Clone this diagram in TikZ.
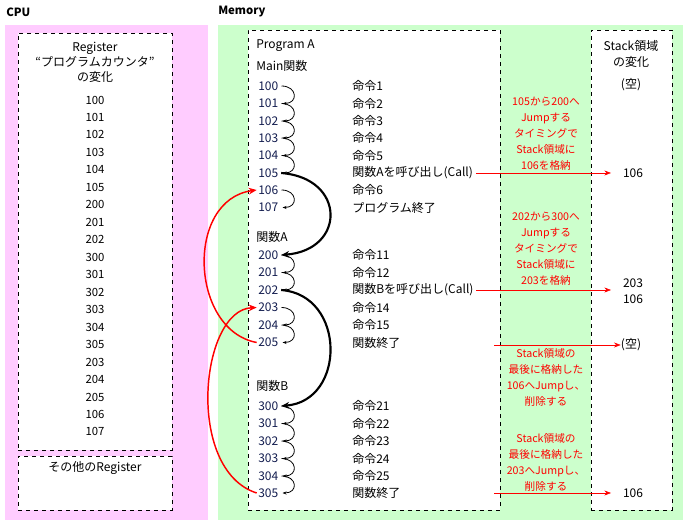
\documentclass[tikz,border=0pt]{standalone}
\usepackage{fontspec}
\setmainfont{Noto Sans CJK JP}
\usetikzlibrary{positioning, arrows.meta}
\definecolor{cpubg}{RGB}{255, 204, 255}
\definecolor{membg}{RGB}{204, 255, 204}
\definecolor{numcolor}{RGB}{20, 30, 80}
\definecolor{notecolor}{RGB}{255, 0, 0}

\begin{document}
\begin{tikzpicture}[
    x=0.75pt, y=-0.75pt,
    txt/.style={font=\fontsize{9}{10}\selectfont, inner sep=0pt, anchor=west},
    num/.style={txt, text=numcolor},
    note/.style={font=\fontsize{8}{12}\selectfont, text=notecolor, align=center, inner sep=0pt},
    title/.style={font=\fontsize{8.5}{10}\selectfont\bfseries, inner sep=0pt, anchor=west},
    dbox/.style={draw, dashed, fill=white, inner sep=0pt, outer sep=0pt},
    loop/.style={-{Stealth[length=3pt]}, semithick},
    jump/.style={-{Stealth[length=6pt,width=5pt]}, line width=1.6pt},
    ret/.style={-{Stealth[length=6pt,width=5pt]}, notecolor, line width=1.1pt},
    push/.style={-{Stealth[length=5pt]}, notecolor},
]
\useasboundingbox (0,0) rectangle (686,523);

% ============ CPU ============
\fill[cpubg] (5,25) rectangle (208,520);
\node[title] (cpu) at (6,12) {CPU};
\node[dbox, minimum width=115.5pt, minimum height=312.75pt, anchor=north west] (reg) at (18,33) {};
\node[dbox, minimum width=115.5pt, minimum height=40.5pt, anchor=north west] (other) at (18,456) {};
\node[font=\fontsize{9}{11.5}\selectfont, align=center, anchor=north] (regtitle) at (95,37) {Register\\“プログラムカウンタ”\\の変化};
\foreach \v [count=\i from 0] in {100,101,102,103,104,105,200,201,202,300,301,302,303,304,305,203,204,205,106,107}
  \node[font=\fontsize{8.5}{10}\selectfont, inner sep=0pt] (pc\i) at (95,{100+17.47*\i}) {\v};
\node[font=\fontsize{9}{10}\selectfont, inner sep=0pt] (otherlbl) at (95,468) {その他のRegister};

% ============ Memory ============
\fill[membg] (218,25) rectangle (683,520);
\node[title] (mem) at (218,12) {Memory};
\node[dbox, minimum width=189pt, minimum height=360pt, anchor=north west] (prog) at (248,30) {};
\node[dbox, minimum width=60.75pt, minimum height=360pt, anchor=north west] (stack) at (591,30) {};
\node[font=\fontsize{9}{12}\selectfont, align=center, anchor=north] (stacktitle) at (631,36) {Stack領域\\の変化};
\node[font=\fontsize{9}{10}\selectfont, inner sep=0pt] (s0) at (631,85) {(空)};

\node[txt] (proga) at (256,46) {Program A};
\node[txt] (mainf) at (256,66) {Main関数};
\node[txt] (funca) at (256,237) {関数A};
\node[txt] (funcb) at (256,386) {関数B};

% 命令行
\foreach \a/\y/\t in {100/86/命令1, 101/103.5/命令2, 102/121/命令3, 103/138/命令4, 104/155.5/命令5,
    105/173/関数Aを呼び出し(Call), 106/190/命令6, 107/207.5/プログラム終了,
    200/255/命令11, 201/272.5/命令12, 202/290/関数Bを呼び出し(Call), 203/307.5/命令14, 204/325/命令15, 205/342.5/関数終了,
    300/406/命令21, 301/423.5/命令22, 302/441/命令23, 303/458.5/命令24, 304/476/命令25, 305/493/関数終了} {
  \node[num] (a\a) at (258,\y) {\a};
  \node[txt] (c\a) at (352,\y) {\t};
}

% 順次実行
\foreach \p/\q in {100/101,101/102,102/103,103/104,104/105,106/107,200/201,201/202,203/204,204/205,300/301,301/302,302/303,303/304,304/305}
  \draw[loop] (a\p.east) ++(3,0) .. controls +(16,0) and +(16,0) .. ([xshift=3pt]a\q.east);

% Jump
\draw[jump] ([xshift=2pt]a105.east) .. controls +(65,5) and +(65,-5) .. ([xshift=2pt]a200.east);
\draw[jump] ([xshift=2pt]a202.east) .. controls +(65,5) and +(65,-5) .. ([xshift=2pt]a300.east);

% Return
\draw[ret] ([xshift=-1pt]a205.west) .. controls (190,330) and (185,200) .. ([xshift=-1pt]a106.west);
\draw[ret] ([xshift=-1pt]a305.west) .. controls (185,470) and (200,310) .. ([xshift=-1pt]a203.west);

% Stack
\node[note] (n1) at (546,134) {105から200へ\\Jumpする\\タイミングで\\Stack領域に\\106を格納};
\node[note] (n2) at (546,249) {202から300へ\\Jumpする\\タイミングで\\Stack領域に\\203を格納};
\node[note] (n3) at (546,377) {Stack領域の\\最後に格納した\\106へJumpし、\\削除する};
\node[note] (n4) at (546,462) {Stack領域の\\最後に格納した\\203へJumpし、\\削除する};

\node[font=\fontsize{9}{10}\selectfont, inner sep=0pt] (s1) at (633,173) {106};
\node[font=\fontsize{9}{12}\selectfont, align=center, inner sep=0pt] (s2) at (633,291) {203\\106};
\node[font=\fontsize{9}{10}\selectfont, inner sep=0pt] (s3) at (631,345) {(空)};
\node[font=\fontsize{9}{10}\selectfont, inner sep=0pt] (s4) at (633,493) {106};

\coordinate (e3) at (494,345);
\coordinate (e4) at (494,493);
\draw[push] ([xshift=2pt]c105.east) -- (611,173);
\draw[push] ([xshift=2pt]c202.east) -- (611,290);
\draw[push] (e3) -- (s3.west);
\draw[push] (e4) -- (611,493);
\end{tikzpicture}
\end{document}
